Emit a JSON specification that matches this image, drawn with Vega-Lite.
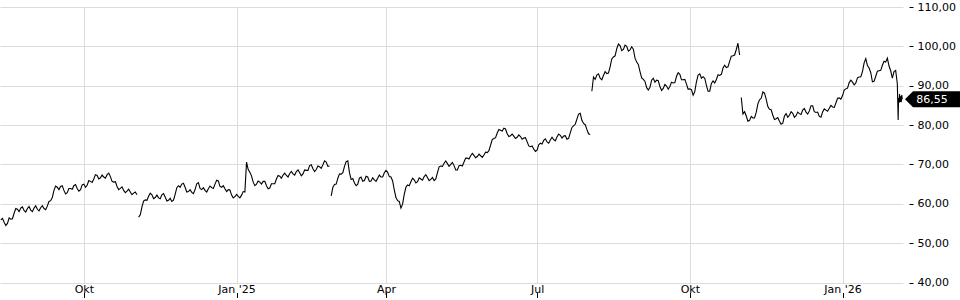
{
  "$schema": "https://vega.github.io/schema/vega-lite/v6.json",
  "autosize": {"type": "none"},
  "width": 903,
  "height": 275.5,
  "padding": {"left": 0, "top": 7, "right": 57, "bottom": 17.5},
  "background": "white",
  "config": {
    "view": {"stroke": null},
    "axis": {"gridColor": "#dcdcdc", "gridWidth": 1, "labelFont": "DejaVu Sans", "labelFontSize": 11, "labelColor": "#000000", "tickColor": "#000000", "title": null}
  },
  "datasets": {
    "p": [
      {"t": "2024-08-12", "v": 55.9, "s": 1}, {"t": "2024-08-14", "v": 55.3, "s": 1}, {"t": "2024-08-16", "v": 55.0, "s": 1}, {"t": "2024-08-18", "v": 56.1, "s": 1},
      {"t": "2024-08-20", "v": 57.6, "s": 1}, {"t": "2024-08-22", "v": 58.6, "s": 1}, {"t": "2024-08-24", "v": 58.9, "s": 1}, {"t": "2024-08-26", "v": 58.3, "s": 1},
      {"t": "2024-08-28", "v": 58.8, "s": 1}, {"t": "2024-08-30", "v": 58.4, "s": 1}, {"t": "2024-09-01", "v": 58.9, "s": 1}, {"t": "2024-09-03", "v": 58.6, "s": 1},
      {"t": "2024-09-05", "v": 59.0, "s": 1}, {"t": "2024-09-07", "v": 58.8, "s": 1}, {"t": "2024-09-09", "v": 59.4, "s": 1}, {"t": "2024-09-11", "v": 60.8, "s": 1},
      {"t": "2024-09-13", "v": 63.4, "s": 1}, {"t": "2024-09-15", "v": 64.2, "s": 1}, {"t": "2024-09-17", "v": 64.4, "s": 1}, {"t": "2024-09-19", "v": 63.4, "s": 1},
      {"t": "2024-09-21", "v": 62.8, "s": 1}, {"t": "2024-09-23", "v": 63.9, "s": 1}, {"t": "2024-09-25", "v": 64.6, "s": 1}, {"t": "2024-09-27", "v": 63.9, "s": 1},
      {"t": "2024-09-29", "v": 63.6, "s": 1}, {"t": "2024-10-01", "v": 65.0, "s": 1}, {"t": "2024-10-03", "v": 64.7, "s": 1}, {"t": "2024-10-05", "v": 65.7, "s": 1},
      {"t": "2024-10-07", "v": 66.3, "s": 1}, {"t": "2024-10-09", "v": 67.2, "s": 1}, {"t": "2024-10-11", "v": 66.6, "s": 1}, {"t": "2024-10-13", "v": 66.8, "s": 1},
      {"t": "2024-10-15", "v": 67.4, "s": 1}, {"t": "2024-10-17", "v": 66.9, "s": 1}, {"t": "2024-10-19", "v": 65.5, "s": 1}, {"t": "2024-10-21", "v": 64.4, "s": 1},
      {"t": "2024-10-23", "v": 63.9, "s": 1}, {"t": "2024-10-25", "v": 63.4, "s": 1}, {"t": "2024-10-27", "v": 63.2, "s": 1}, {"t": "2024-10-29", "v": 63.0, "s": 1},
      {"t": "2024-10-31", "v": 62.7, "s": 1}, {"t": "2024-11-02", "v": 62.3, "s": 1},
      {"t": "2024-08-13", "v": 56.3, "s": 1}, {"t": "2024-08-15", "v": 54.5, "s": 1}, {"t": "2024-08-17", "v": 56.4, "s": 1}, {"t": "2024-08-19", "v": 56.2, "s": 1},
      {"t": "2024-08-21", "v": 58.8, "s": 1}, {"t": "2024-08-23", "v": 58.0, "s": 1}, {"t": "2024-08-25", "v": 59.2, "s": 1}, {"t": "2024-08-27", "v": 57.9, "s": 1},
      {"t": "2024-08-29", "v": 59.3, "s": 1}, {"t": "2024-08-31", "v": 58.0, "s": 1}, {"t": "2024-09-02", "v": 59.5, "s": 1}, {"t": "2024-09-04", "v": 58.2, "s": 1},
      {"t": "2024-09-06", "v": 59.5, "s": 1}, {"t": "2024-09-08", "v": 58.5, "s": 1}, {"t": "2024-09-10", "v": 60.6, "s": 1}, {"t": "2024-09-12", "v": 61.6, "s": 1},
      {"t": "2024-09-14", "v": 64.5, "s": 1}, {"t": "2024-09-16", "v": 63.6, "s": 1}, {"t": "2024-09-18", "v": 64.6, "s": 1}, {"t": "2024-09-20", "v": 62.5, "s": 1},
      {"t": "2024-09-22", "v": 63.9, "s": 1}, {"t": "2024-09-24", "v": 63.7, "s": 1}, {"t": "2024-09-26", "v": 64.9, "s": 1}, {"t": "2024-09-28", "v": 63.2, "s": 1},
      {"t": "2024-09-30", "v": 64.8, "s": 1}, {"t": "2024-10-02", "v": 64.2, "s": 1}, {"t": "2024-10-04", "v": 65.9, "s": 1}, {"t": "2024-10-06", "v": 65.4, "s": 1},
      {"t": "2024-10-08", "v": 67.4, "s": 1}, {"t": "2024-10-10", "v": 66.3, "s": 1}, {"t": "2024-10-12", "v": 67.3, "s": 1}, {"t": "2024-10-14", "v": 66.5, "s": 1},
      {"t": "2024-10-16", "v": 67.8, "s": 1}, {"t": "2024-10-18", "v": 65.7, "s": 1}, {"t": "2024-10-20", "v": 65.6, "s": 1}, {"t": "2024-10-22", "v": 63.6, "s": 1},
      {"t": "2024-10-24", "v": 64.3, "s": 1}, {"t": "2024-10-26", "v": 62.8, "s": 1}, {"t": "2024-10-28", "v": 63.7, "s": 1}, {"t": "2024-10-30", "v": 62.3, "s": 1},
      {"t": "2024-11-01", "v": 63.0, "s": 1},

      {"t": "2024-11-03", "v": 56.6, "s": 2}, {"t": "2024-11-05", "v": 59.2, "s": 2}, {"t": "2024-11-07", "v": 61.0, "s": 2}, {"t": "2024-11-09", "v": 61.9, "s": 2},
      {"t": "2024-11-11", "v": 62.3, "s": 2}, {"t": "2024-11-13", "v": 61.6, "s": 2}, {"t": "2024-11-15", "v": 61.5, "s": 2}, {"t": "2024-11-17", "v": 62.3, "s": 2},
      {"t": "2024-11-19", "v": 61.7, "s": 2}, {"t": "2024-11-21", "v": 60.9, "s": 2}, {"t": "2024-11-23", "v": 60.6, "s": 2}, {"t": "2024-11-25", "v": 62.4, "s": 2},
      {"t": "2024-11-27", "v": 64.6, "s": 2}, {"t": "2024-11-29", "v": 65.0, "s": 2}, {"t": "2024-12-01", "v": 64.2, "s": 2}, {"t": "2024-12-03", "v": 63.1, "s": 2},
      {"t": "2024-12-05", "v": 62.9, "s": 2}, {"t": "2024-12-07", "v": 63.6, "s": 2}, {"t": "2024-12-09", "v": 65.4, "s": 2}, {"t": "2024-12-11", "v": 63.6, "s": 2},
      {"t": "2024-12-13", "v": 63.4, "s": 2}, {"t": "2024-12-15", "v": 63.8, "s": 2}, {"t": "2024-12-17", "v": 64.1, "s": 2}, {"t": "2024-12-19", "v": 65.0, "s": 2},
      {"t": "2024-12-21", "v": 65.8, "s": 2}, {"t": "2024-12-23", "v": 64.2, "s": 2}, {"t": "2024-12-25", "v": 63.8, "s": 2}, {"t": "2024-12-27", "v": 63.6, "s": 2},
      {"t": "2024-12-29", "v": 62.2, "s": 2}, {"t": "2024-12-31", "v": 61.8, "s": 2}, {"t": "2025-01-02", "v": 61.9, "s": 2}, {"t": "2025-01-04", "v": 62.2, "s": 2},
      {"t": "2025-01-06", "v": 63.0, "s": 2}, {"t": "2025-01-07", "v": 70.6, "s": 2}, {"t": "2025-01-09", "v": 68.0, "s": 2}, {"t": "2025-01-11", "v": 65.5, "s": 2},
      {"t": "2025-01-13", "v": 65.0, "s": 2}, {"t": "2025-01-15", "v": 65.5, "s": 2}, {"t": "2025-01-17", "v": 65.7, "s": 2}, {"t": "2025-01-19", "v": 64.6, "s": 2},
      {"t": "2025-01-21", "v": 64.0, "s": 2}, {"t": "2025-01-23", "v": 65.1, "s": 2}, {"t": "2025-01-25", "v": 66.3, "s": 2}, {"t": "2025-01-27", "v": 67.0, "s": 2},
      {"t": "2025-01-29", "v": 67.3, "s": 2}, {"t": "2025-01-31", "v": 67.2, "s": 2}, {"t": "2025-02-02", "v": 67.7, "s": 2}, {"t": "2025-02-04", "v": 67.6, "s": 2},
      {"t": "2025-02-06", "v": 68.2, "s": 2}, {"t": "2025-02-08", "v": 67.9, "s": 2}, {"t": "2025-02-10", "v": 67.6, "s": 2}, {"t": "2025-02-12", "v": 68.5, "s": 2},
      {"t": "2025-02-14", "v": 69.7, "s": 2}, {"t": "2025-02-16", "v": 68.9, "s": 2}, {"t": "2025-02-18", "v": 68.7, "s": 2}, {"t": "2025-02-20", "v": 69.4, "s": 2},
      {"t": "2025-02-22", "v": 69.9, "s": 2}, {"t": "2025-02-24", "v": 70.6, "s": 2}, {"t": "2025-02-26", "v": 69.6, "s": 2},
      {"t": "2024-11-04", "v": 57.2, "s": 2}, {"t": "2024-11-06", "v": 60.7, "s": 2}, {"t": "2024-11-08", "v": 60.9, "s": 2}, {"t": "2024-11-10", "v": 62.7, "s": 2},
      {"t": "2024-11-12", "v": 61.3, "s": 2}, {"t": "2024-11-14", "v": 62.2, "s": 2}, {"t": "2024-11-16", "v": 61.3, "s": 2}, {"t": "2024-11-18", "v": 62.6, "s": 2},
      {"t": "2024-11-20", "v": 60.7, "s": 2}, {"t": "2024-11-22", "v": 61.4, "s": 2}, {"t": "2024-11-24", "v": 60.9, "s": 2}, {"t": "2024-11-26", "v": 64.1, "s": 2},
      {"t": "2024-11-28", "v": 64.2, "s": 2}, {"t": "2024-11-30", "v": 65.2, "s": 2}, {"t": "2024-12-02", "v": 63.0, "s": 2}, {"t": "2024-12-04", "v": 63.6, "s": 2},
      {"t": "2024-12-06", "v": 62.6, "s": 2}, {"t": "2024-12-08", "v": 65.1, "s": 2}, {"t": "2024-12-10", "v": 63.9, "s": 2}, {"t": "2024-12-12", "v": 64.1, "s": 2},
      {"t": "2024-12-14", "v": 63.0, "s": 2}, {"t": "2024-12-16", "v": 64.5, "s": 2}, {"t": "2024-12-18", "v": 63.9, "s": 2}, {"t": "2024-12-20", "v": 66.0, "s": 2},
      {"t": "2024-12-22", "v": 64.4, "s": 2}, {"t": "2024-12-24", "v": 64.6, "s": 2}, {"t": "2024-12-26", "v": 63.1, "s": 2}, {"t": "2024-12-28", "v": 63.5, "s": 2},
      {"t": "2024-12-30", "v": 61.5, "s": 2}, {"t": "2025-01-01", "v": 62.4, "s": 2}, {"t": "2025-01-03", "v": 61.5, "s": 2}, {"t": "2025-01-05", "v": 63.1, "s": 2},
      {"t": "2025-01-08", "v": 68.7, "s": 2}, {"t": "2025-01-10", "v": 67.1, "s": 2}, {"t": "2025-01-12", "v": 64.6, "s": 2}, {"t": "2025-01-14", "v": 65.8, "s": 2},
      {"t": "2025-01-16", "v": 65.0, "s": 2}, {"t": "2025-01-18", "v": 65.7, "s": 2}, {"t": "2025-01-20", "v": 63.8, "s": 2}, {"t": "2025-01-22", "v": 65.1, "s": 2},
      {"t": "2025-01-24", "v": 65.1, "s": 2}, {"t": "2025-01-26", "v": 67.2, "s": 2}, {"t": "2025-01-28", "v": 66.5, "s": 2}, {"t": "2025-01-30", "v": 67.8, "s": 2},
      {"t": "2025-02-01", "v": 66.8, "s": 2}, {"t": "2025-02-03", "v": 68.2, "s": 2}, {"t": "2025-02-05", "v": 67.3, "s": 2}, {"t": "2025-02-07", "v": 68.6, "s": 2},
      {"t": "2025-02-09", "v": 67.1, "s": 2}, {"t": "2025-02-11", "v": 68.6, "s": 2}, {"t": "2025-02-13", "v": 68.5, "s": 2}, {"t": "2025-02-15", "v": 69.9, "s": 2},
      {"t": "2025-02-17", "v": 68.2, "s": 2}, {"t": "2025-02-19", "v": 69.6, "s": 2}, {"t": "2025-02-21", "v": 69.0, "s": 2}, {"t": "2025-02-23", "v": 70.9, "s": 2},
      {"t": "2025-02-25", "v": 69.5, "s": 2},

      {"t": "2025-02-27", "v": 62.0, "s": 3}, {"t": "2025-03-01", "v": 64.9, "s": 3}, {"t": "2025-03-03", "v": 66.5, "s": 3}, {"t": "2025-03-05", "v": 67.5, "s": 3},
      {"t": "2025-03-07", "v": 69.5, "s": 3}, {"t": "2025-03-09", "v": 70.9, "s": 3}, {"t": "2025-03-11", "v": 66.2, "s": 3}, {"t": "2025-03-13", "v": 65.3, "s": 3},
      {"t": "2025-03-15", "v": 65.0, "s": 3}, {"t": "2025-03-17", "v": 66.8, "s": 3}, {"t": "2025-03-19", "v": 65.9, "s": 3}, {"t": "2025-03-21", "v": 66.8, "s": 3},
      {"t": "2025-03-23", "v": 65.8, "s": 3}, {"t": "2025-03-25", "v": 66.1, "s": 3}, {"t": "2025-03-27", "v": 66.5, "s": 3}, {"t": "2025-03-29", "v": 66.8, "s": 3},
      {"t": "2025-03-31", "v": 67.9, "s": 3}, {"t": "2025-04-02", "v": 68.0, "s": 3}, {"t": "2025-04-04", "v": 66.8, "s": 3}, {"t": "2025-04-06", "v": 63.5, "s": 3},
      {"t": "2025-04-08", "v": 60.8, "s": 3}, {"t": "2025-04-10", "v": 58.9, "s": 3}, {"t": "2025-04-12", "v": 62.4, "s": 3}, {"t": "2025-04-14", "v": 64.8, "s": 3},
      {"t": "2025-04-16", "v": 65.6, "s": 3}, {"t": "2025-04-18", "v": 66.1, "s": 3}, {"t": "2025-04-20", "v": 65.6, "s": 3}, {"t": "2025-04-22", "v": 66.3, "s": 3},
      {"t": "2025-04-24", "v": 66.9, "s": 3}, {"t": "2025-04-26", "v": 66.7, "s": 3}, {"t": "2025-04-28", "v": 66.2, "s": 3}, {"t": "2025-04-30", "v": 65.9, "s": 3},
      {"t": "2025-05-02", "v": 67.9, "s": 3}, {"t": "2025-05-04", "v": 69.6, "s": 3}, {"t": "2025-05-06", "v": 70.3, "s": 3}, {"t": "2025-05-08", "v": 70.2, "s": 3},
      {"t": "2025-05-10", "v": 70.0, "s": 3}, {"t": "2025-05-12", "v": 69.7, "s": 3}, {"t": "2025-05-14", "v": 68.6, "s": 3}, {"t": "2025-05-16", "v": 69.8, "s": 3},
      {"t": "2025-05-18", "v": 70.6, "s": 3}, {"t": "2025-05-20", "v": 71.6, "s": 3}, {"t": "2025-05-22", "v": 72.2, "s": 3}, {"t": "2025-05-24", "v": 72.3, "s": 3},
      {"t": "2025-05-26", "v": 72.0, "s": 3}, {"t": "2025-05-28", "v": 72.2, "s": 3}, {"t": "2025-05-30", "v": 72.4, "s": 3}, {"t": "2025-06-01", "v": 73.0, "s": 3},
      {"t": "2025-06-03", "v": 74.9, "s": 3}, {"t": "2025-06-05", "v": 76.6, "s": 3}, {"t": "2025-06-07", "v": 78.0, "s": 3}, {"t": "2025-06-09", "v": 78.7, "s": 3},
      {"t": "2025-06-11", "v": 79.2, "s": 3}, {"t": "2025-06-13", "v": 77.8, "s": 3}, {"t": "2025-06-15", "v": 77.3, "s": 3}, {"t": "2025-06-17", "v": 77.2, "s": 3},
      {"t": "2025-06-19", "v": 76.9, "s": 3}, {"t": "2025-06-21", "v": 77.1, "s": 3}, {"t": "2025-06-23", "v": 76.7, "s": 3}, {"t": "2025-06-25", "v": 75.8, "s": 3},
      {"t": "2025-06-27", "v": 74.5, "s": 3}, {"t": "2025-06-29", "v": 73.9, "s": 3}, {"t": "2025-07-01", "v": 73.6, "s": 3}, {"t": "2025-07-03", "v": 75.4, "s": 3},
      {"t": "2025-07-05", "v": 76.1, "s": 3}, {"t": "2025-07-07", "v": 75.7, "s": 3}, {"t": "2025-07-09", "v": 76.2, "s": 3}, {"t": "2025-07-11", "v": 76.3, "s": 3},
      {"t": "2025-07-13", "v": 77.0, "s": 3}, {"t": "2025-07-15", "v": 77.4, "s": 3}, {"t": "2025-07-17", "v": 77.2, "s": 3}, {"t": "2025-07-19", "v": 76.4, "s": 3},
      {"t": "2025-07-21", "v": 78.0, "s": 3}, {"t": "2025-07-23", "v": 79.8, "s": 3}, {"t": "2025-07-25", "v": 81.5, "s": 3}, {"t": "2025-07-27", "v": 83.0, "s": 3},
      {"t": "2025-07-29", "v": 80.4, "s": 3}, {"t": "2025-07-31", "v": 78.9, "s": 3}, {"t": "2025-08-02", "v": 77.6, "s": 3},
      {"t": "2025-02-28", "v": 64.2, "s": 3}, {"t": "2025-03-02", "v": 65.0, "s": 3}, {"t": "2025-03-04", "v": 67.6, "s": 3}, {"t": "2025-03-06", "v": 67.9, "s": 3},
      {"t": "2025-03-08", "v": 70.7, "s": 3}, {"t": "2025-03-10", "v": 67.9, "s": 3}, {"t": "2025-03-12", "v": 66.4, "s": 3}, {"t": "2025-03-14", "v": 64.6, "s": 3},
      {"t": "2025-03-16", "v": 66.5, "s": 3}, {"t": "2025-03-18", "v": 65.7, "s": 3}, {"t": "2025-03-20", "v": 67.0, "s": 3}, {"t": "2025-03-22", "v": 65.7, "s": 3},
      {"t": "2025-03-24", "v": 66.6, "s": 3}, {"t": "2025-03-26", "v": 65.7, "s": 3}, {"t": "2025-03-28", "v": 67.3, "s": 3}, {"t": "2025-03-30", "v": 66.8, "s": 3},
      {"t": "2025-04-01", "v": 68.5, "s": 3}, {"t": "2025-04-03", "v": 66.9, "s": 3}, {"t": "2025-04-05", "v": 65.8, "s": 3}, {"t": "2025-04-07", "v": 61.6, "s": 3},
      {"t": "2025-04-09", "v": 60.6, "s": 3}, {"t": "2025-04-11", "v": 59.9, "s": 3}, {"t": "2025-04-13", "v": 64.2, "s": 3}, {"t": "2025-04-15", "v": 64.6, "s": 3},
      {"t": "2025-04-17", "v": 66.5, "s": 3}, {"t": "2025-04-19", "v": 65.3, "s": 3}, {"t": "2025-04-21", "v": 66.6, "s": 3}, {"t": "2025-04-23", "v": 66.0, "s": 3},
      {"t": "2025-04-25", "v": 67.4, "s": 3}, {"t": "2025-04-27", "v": 65.9, "s": 3}, {"t": "2025-04-29", "v": 66.7, "s": 3}, {"t": "2025-05-01", "v": 66.3, "s": 3},
      {"t": "2025-05-03", "v": 69.4, "s": 3}, {"t": "2025-05-05", "v": 69.5, "s": 3}, {"t": "2025-05-07", "v": 70.9, "s": 3}, {"t": "2025-05-09", "v": 69.5, "s": 3},
      {"t": "2025-05-11", "v": 70.5, "s": 3}, {"t": "2025-05-13", "v": 68.6, "s": 3}, {"t": "2025-05-15", "v": 69.7, "s": 3}, {"t": "2025-05-17", "v": 69.6, "s": 3},
      {"t": "2025-05-19", "v": 71.6, "s": 3}, {"t": "2025-05-21", "v": 71.4, "s": 3}, {"t": "2025-05-23", "v": 72.8, "s": 3}, {"t": "2025-05-25", "v": 71.7, "s": 3},
      {"t": "2025-05-27", "v": 72.6, "s": 3}, {"t": "2025-05-29", "v": 71.8, "s": 3}, {"t": "2025-05-31", "v": 73.1, "s": 3}, {"t": "2025-06-02", "v": 73.5, "s": 3},
      {"t": "2025-06-04", "v": 76.3, "s": 3}, {"t": "2025-06-06", "v": 76.8, "s": 3}, {"t": "2025-06-08", "v": 78.9, "s": 3}, {"t": "2025-06-10", "v": 78.5, "s": 3},
      {"t": "2025-06-12", "v": 79.0, "s": 3}, {"t": "2025-06-14", "v": 77.1, "s": 3}, {"t": "2025-06-16", "v": 77.7, "s": 3}, {"t": "2025-06-18", "v": 76.6, "s": 3},
      {"t": "2025-06-20", "v": 77.5, "s": 3}, {"t": "2025-06-22", "v": 76.4, "s": 3}, {"t": "2025-06-24", "v": 76.8, "s": 3}, {"t": "2025-06-26", "v": 74.7, "s": 3},
      {"t": "2025-06-28", "v": 74.7, "s": 3}, {"t": "2025-06-30", "v": 73.3, "s": 3}, {"t": "2025-07-02", "v": 75.0, "s": 3}, {"t": "2025-07-04", "v": 75.2, "s": 3},
      {"t": "2025-07-06", "v": 76.5, "s": 3}, {"t": "2025-07-08", "v": 75.4, "s": 3}, {"t": "2025-07-10", "v": 76.9, "s": 3}, {"t": "2025-07-12", "v": 76.0, "s": 3},
      {"t": "2025-07-14", "v": 77.7, "s": 3}, {"t": "2025-07-16", "v": 76.7, "s": 3}, {"t": "2025-07-18", "v": 77.3, "s": 3}, {"t": "2025-07-20", "v": 76.6, "s": 3},
      {"t": "2025-07-22", "v": 79.4, "s": 3}, {"t": "2025-07-24", "v": 80.2, "s": 3}, {"t": "2025-07-26", "v": 82.8, "s": 3}, {"t": "2025-07-28", "v": 81.2, "s": 3},
      {"t": "2025-07-30", "v": 80.1, "s": 3}, {"t": "2025-08-01", "v": 77.8, "s": 3},

      {"t": "2025-08-03", "v": 88.6, "s": 4}, {"t": "2025-08-04", "v": 92.2, "s": 4}, {"t": "2025-08-06", "v": 92.7, "s": 4}, {"t": "2025-08-08", "v": 91.9, "s": 4},
      {"t": "2025-08-10", "v": 92.6, "s": 4}, {"t": "2025-08-12", "v": 93.1, "s": 4}, {"t": "2025-08-14", "v": 94.8, "s": 4}, {"t": "2025-08-16", "v": 97.3, "s": 4},
      {"t": "2025-08-18", "v": 99.4, "s": 4}, {"t": "2025-08-20", "v": 100.2, "s": 4}, {"t": "2025-08-22", "v": 99.2, "s": 4}, {"t": "2025-08-24", "v": 100.0, "s": 4},
      {"t": "2025-08-26", "v": 99.1, "s": 4}, {"t": "2025-08-28", "v": 99.3, "s": 4}, {"t": "2025-08-30", "v": 96.0, "s": 4}, {"t": "2025-09-01", "v": 93.6, "s": 4},
      {"t": "2025-09-03", "v": 91.6, "s": 4}, {"t": "2025-09-05", "v": 89.5, "s": 4}, {"t": "2025-09-07", "v": 89.6, "s": 4}, {"t": "2025-09-09", "v": 91.9, "s": 4},
      {"t": "2025-09-11", "v": 91.4, "s": 4}, {"t": "2025-09-13", "v": 89.8, "s": 4}, {"t": "2025-09-15", "v": 89.3, "s": 4}, {"t": "2025-09-17", "v": 89.9, "s": 4},
      {"t": "2025-09-19", "v": 89.8, "s": 4}, {"t": "2025-09-21", "v": 90.7, "s": 4}, {"t": "2025-09-23", "v": 92.4, "s": 4}, {"t": "2025-09-25", "v": 92.9, "s": 4},
      {"t": "2025-09-27", "v": 91.5, "s": 4}, {"t": "2025-09-29", "v": 90.4, "s": 4}, {"t": "2025-10-01", "v": 89.2, "s": 4}, {"t": "2025-10-03", "v": 87.6, "s": 4},
      {"t": "2025-10-05", "v": 91.0, "s": 4}, {"t": "2025-10-07", "v": 93.0, "s": 4}, {"t": "2025-10-09", "v": 92.3, "s": 4}, {"t": "2025-10-11", "v": 90.1, "s": 4},
      {"t": "2025-10-13", "v": 88.6, "s": 4}, {"t": "2025-10-15", "v": 91.2, "s": 4}, {"t": "2025-10-17", "v": 91.6, "s": 4}, {"t": "2025-10-19", "v": 92.6, "s": 4},
      {"t": "2025-10-21", "v": 94.5, "s": 4}, {"t": "2025-10-23", "v": 94.6, "s": 4}, {"t": "2025-10-25", "v": 96.2, "s": 4}, {"t": "2025-10-27", "v": 97.6, "s": 4},
      {"t": "2025-10-29", "v": 99.2, "s": 4}, {"t": "2025-10-30", "v": 100.8, "s": 4}, {"t": "2025-10-31", "v": 97.8, "s": 4},
      {"t": "2025-08-05", "v": 91.6, "s": 4}, {"t": "2025-08-07", "v": 93.0, "s": 4}, {"t": "2025-08-09", "v": 91.5, "s": 4}, {"t": "2025-08-11", "v": 93.6, "s": 4},
      {"t": "2025-08-13", "v": 93.2, "s": 4}, {"t": "2025-08-15", "v": 96.8, "s": 4}, {"t": "2025-08-17", "v": 97.6, "s": 4}, {"t": "2025-08-19", "v": 100.6, "s": 4},
      {"t": "2025-08-21", "v": 98.9, "s": 4}, {"t": "2025-08-23", "v": 100.3, "s": 4}, {"t": "2025-08-25", "v": 98.8, "s": 4}, {"t": "2025-08-27", "v": 99.9, "s": 4},
      {"t": "2025-08-29", "v": 97.0, "s": 4}, {"t": "2025-08-31", "v": 95.4, "s": 4}, {"t": "2025-09-02", "v": 92.0, "s": 4}, {"t": "2025-09-04", "v": 91.1, "s": 4},
      {"t": "2025-09-06", "v": 88.9, "s": 4}, {"t": "2025-09-08", "v": 91.4, "s": 4}, {"t": "2025-09-10", "v": 90.9, "s": 4}, {"t": "2025-09-12", "v": 91.3, "s": 4},
      {"t": "2025-09-14", "v": 88.8, "s": 4}, {"t": "2025-09-16", "v": 90.3, "s": 4}, {"t": "2025-09-18", "v": 89.1, "s": 4}, {"t": "2025-09-20", "v": 90.9, "s": 4},
      {"t": "2025-09-22", "v": 90.8, "s": 4}, {"t": "2025-09-24", "v": 93.3, "s": 4}, {"t": "2025-09-26", "v": 91.5, "s": 4}, {"t": "2025-09-28", "v": 91.6, "s": 4},
      {"t": "2025-09-30", "v": 89.1, "s": 4}, {"t": "2025-10-02", "v": 89.0, "s": 4}, {"t": "2025-10-04", "v": 88.5, "s": 4}, {"t": "2025-10-06", "v": 92.7, "s": 4},
      {"t": "2025-10-08", "v": 91.9, "s": 4}, {"t": "2025-10-10", "v": 91.9, "s": 4}, {"t": "2025-10-12", "v": 88.6, "s": 4}, {"t": "2025-10-14", "v": 90.6, "s": 4},
      {"t": "2025-10-16", "v": 90.7, "s": 4}, {"t": "2025-10-18", "v": 92.8, "s": 4}, {"t": "2025-10-20", "v": 92.9, "s": 4}, {"t": "2025-10-22", "v": 95.2, "s": 4},
      {"t": "2025-10-24", "v": 94.8, "s": 4}, {"t": "2025-10-26", "v": 97.5, "s": 4}, {"t": "2025-10-28", "v": 97.8, "s": 4},

      {"t": "2025-11-01", "v": 87.0, "s": 5}, {"t": "2025-11-02", "v": 82.8, "s": 5}, {"t": "2025-11-04", "v": 82.3, "s": 5}, {"t": "2025-11-06", "v": 81.2, "s": 5},
      {"t": "2025-11-08", "v": 81.8, "s": 5}, {"t": "2025-11-10", "v": 83.2, "s": 5}, {"t": "2025-11-12", "v": 86.4, "s": 5}, {"t": "2025-11-14", "v": 88.4, "s": 5},
      {"t": "2025-11-16", "v": 86.6, "s": 5}, {"t": "2025-11-18", "v": 84.0, "s": 5}, {"t": "2025-11-20", "v": 82.5, "s": 5}, {"t": "2025-11-22", "v": 81.6, "s": 5},
      {"t": "2025-11-24", "v": 81.0, "s": 5}, {"t": "2025-11-26", "v": 80.5, "s": 5}, {"t": "2025-11-28", "v": 82.9, "s": 5}, {"t": "2025-11-30", "v": 82.5, "s": 5},
      {"t": "2025-12-02", "v": 83.0, "s": 5}, {"t": "2025-12-04", "v": 82.4, "s": 5}, {"t": "2025-12-06", "v": 82.9, "s": 5}, {"t": "2025-12-08", "v": 83.8, "s": 5},
      {"t": "2025-12-10", "v": 83.3, "s": 5}, {"t": "2025-12-12", "v": 83.6, "s": 5}, {"t": "2025-12-14", "v": 84.9, "s": 5}, {"t": "2025-12-16", "v": 83.2, "s": 5},
      {"t": "2025-12-18", "v": 82.2, "s": 5}, {"t": "2025-12-20", "v": 83.3, "s": 5}, {"t": "2025-12-22", "v": 83.8, "s": 5}, {"t": "2025-12-24", "v": 84.3, "s": 5},
      {"t": "2025-12-26", "v": 84.6, "s": 5}, {"t": "2025-12-28", "v": 85.6, "s": 5}, {"t": "2025-12-30", "v": 86.9, "s": 5}, {"t": "2026-01-01", "v": 87.5, "s": 5},
      {"t": "2026-01-03", "v": 89.2, "s": 5}, {"t": "2026-01-05", "v": 90.8, "s": 5}, {"t": "2026-01-07", "v": 90.9, "s": 5}, {"t": "2026-01-09", "v": 90.7, "s": 5},
      {"t": "2026-01-11", "v": 92.2, "s": 5}, {"t": "2026-01-13", "v": 93.6, "s": 5}, {"t": "2026-01-15", "v": 96.9, "s": 5}, {"t": "2026-01-17", "v": 94.5, "s": 5},
      {"t": "2026-01-19", "v": 91.0, "s": 5}, {"t": "2026-01-21", "v": 92.4, "s": 5}, {"t": "2026-01-23", "v": 93.8, "s": 5}, {"t": "2026-01-25", "v": 95.2, "s": 5},
      {"t": "2026-01-27", "v": 96.0, "s": 5}, {"t": "2026-01-28", "v": 97.0, "s": 5}, {"t": "2026-01-29", "v": 95.0, "s": 5}, {"t": "2026-01-30", "v": 93.8, "s": 5},
      {"t": "2026-01-31", "v": 91.9, "s": 5}, {"t": "2026-02-01", "v": 93.6, "s": 5}, {"t": "2026-02-02", "v": 93.9, "s": 5}, {"t": "2026-02-03T00:00Z", "v": 90.5, "s": 5},
      {"t": "2026-02-03T12:00Z", "v": 81.3, "s": 5}, {"t": "2026-02-03T18:00Z", "v": 86.9, "s": 5}, {"t": "2026-02-04T00:00Z", "v": 85.6, "s": 5}, {"t": "2026-02-04T08:00Z", "v": 87.9, "s": 5},
      {"t": "2026-02-04T16:00Z", "v": 85.9, "s": 5}, {"t": "2026-02-05T00:00Z", "v": 87.3, "s": 5}, {"t": "2026-02-05T08:00Z", "v": 85.8, "s": 5}, {"t": "2026-02-05T16:00Z", "v": 87.6, "s": 5},
      {"t": "2026-02-06T00:00Z", "v": 86.55, "s": 5},
      {"t": "2025-11-03", "v": 83.4, "s": 5}, {"t": "2025-11-05", "v": 81.0, "s": 5}, {"t": "2025-11-07", "v": 82.2, "s": 5}, {"t": "2025-11-09", "v": 81.8, "s": 5},
      {"t": "2025-11-11", "v": 85.4, "s": 5}, {"t": "2025-11-13", "v": 86.8, "s": 5}, {"t": "2025-11-15", "v": 88.1, "s": 5}, {"t": "2025-11-17", "v": 84.7, "s": 5},
      {"t": "2025-11-19", "v": 83.9, "s": 5}, {"t": "2025-11-21", "v": 81.4, "s": 5}, {"t": "2025-11-23", "v": 81.9, "s": 5}, {"t": "2025-11-25", "v": 80.2, "s": 5},
      {"t": "2025-11-27", "v": 82.3, "s": 5}, {"t": "2025-11-29", "v": 82.0, "s": 5}, {"t": "2025-12-01", "v": 83.4, "s": 5}, {"t": "2025-12-03", "v": 82.0, "s": 5},
      {"t": "2025-12-05", "v": 83.3, "s": 5}, {"t": "2025-12-07", "v": 82.7, "s": 5}, {"t": "2025-12-09", "v": 84.2, "s": 5}, {"t": "2025-12-11", "v": 82.8, "s": 5},
      {"t": "2025-12-13", "v": 84.9, "s": 5}, {"t": "2025-12-15", "v": 83.4, "s": 5}, {"t": "2025-12-17", "v": 83.3, "s": 5}, {"t": "2025-12-19", "v": 82.0, "s": 5},
      {"t": "2025-12-21", "v": 84.1, "s": 5}, {"t": "2025-12-23", "v": 83.5, "s": 5}, {"t": "2025-12-25", "v": 85.0, "s": 5}, {"t": "2025-12-27", "v": 84.5, "s": 5},
      {"t": "2025-12-29", "v": 86.8, "s": 5}, {"t": "2025-12-31", "v": 86.6, "s": 5}, {"t": "2026-01-02", "v": 88.9, "s": 5}, {"t": "2026-01-04", "v": 89.4, "s": 5},
      {"t": "2026-01-06", "v": 91.4, "s": 5}, {"t": "2026-01-08", "v": 90.2, "s": 5}, {"t": "2026-01-10", "v": 92.0, "s": 5}, {"t": "2026-01-12", "v": 92.3, "s": 5},
      {"t": "2026-01-14", "v": 95.8, "s": 5}, {"t": "2026-01-16", "v": 95.1, "s": 5}, {"t": "2026-01-18", "v": 93.3, "s": 5}, {"t": "2026-01-20", "v": 91.1, "s": 5},
      {"t": "2026-01-22", "v": 93.7, "s": 5}, {"t": "2026-01-24", "v": 93.9, "s": 5}, {"t": "2026-01-26", "v": 96.2, "s": 5}
    ],
    "last": [
      {"t": "2026-02-06T00:00Z", "v": 86.55, "lbl": "86,55"}
    ]
  },
  "resolve": {"axis": {"x": "independent"}},
  "encoding": {
    "y": {
      "field": "v", "type": "quantitative",
      "scale": {"domain": [40, 110], "nice": false, "zero": false},
      "axis": {
        "orient": "right", "grid": true, "domain": false, "ticks": true, "tickSize": 4, "offset": 6, "labelPadding": 4,
        "values": [40, 50, 60, 70, 80, 90, 100, 110],
        "labelExpr": "replace(format(datum.value, '.2f'), '.', ',')"
      }
    }
  },
  "layer": [
    {
      "data": {"name": "p"},
      "mark": {"type": "line", "color": "#000000", "strokeWidth": 1.1, "interpolate": "linear"},
      "encoding": {
        "x": {
          "field": "t", "type": "temporal",
          "scale": {"type": "utc", "domain": [{"year": 2024, "month": 8, "date": 11, "hours": 12, "utc": true}, {"year": 2026, "month": 2, "date": 6, "hours": 10, "utc": true}]},
          "axis": {
            "orient": "bottom", "grid": true, "ticks": false, "domain": false, "labelPadding": 1,
            "values": [
              {"year": 2024, "month": 10, "date": 1, "utc": true},
              {"year": 2025, "month": 1, "date": 1, "utc": true},
              {"year": 2025, "month": 4, "date": 1, "utc": true},
              {"year": 2025, "month": 7, "date": 1, "utc": true},
              {"year": 2025, "month": 10, "date": 1, "utc": true},
              {"year": 2026, "month": 1, "date": 1, "utc": true}
            ],
            "labelExpr": "['Jan','Feb','Mär','Apr','Mai','Jun','Jul','Aug','Sep','Okt','Nov','Dez'][utcmonth(datum.value)] + (utcmonth(datum.value) == 0 ? \" '\" + utcFormat(datum.value, '%y') : '')"
          }
        },
        "detail": {"field": "s", "type": "nominal"}
      }
    },
    {
      "data": {"name": "p"},
      "mark": {"type": "line", "strokeOpacity": 0},
      "encoding": {
        "x": {
          "field": "t", "type": "temporal",
          "axis": {
            "orient": "bottom", "grid": false, "labels": false, "domain": false, "ticks": true, "tickSize": 5, "offset": 10,
            "values": [
              {"year": 2024, "month": 10, "date": 1, "utc": true},
              {"year": 2025, "month": 1, "date": 1, "utc": true},
              {"year": 2025, "month": 4, "date": 1, "utc": true},
              {"year": 2025, "month": 7, "date": 1, "utc": true},
              {"year": 2025, "month": 10, "date": 1, "utc": true},
              {"year": 2026, "month": 1, "date": 1, "utc": true}
            ]
          }
        },
        "detail": {"field": "s", "type": "nominal"}
      }
    },
    {
      "data": {"name": "last"},
      "mark": {"type": "point", "shape": "M2.7,0L10.7,-8L58,-8L58,8L10.7,8Z", "size": 4, "filled": true, "fill": "#000000", "opacity": 1, "strokeWidth": 0},
      "encoding": {
        "x": {"field": "t", "type": "temporal", "axis": null}
      }
    },
    {
      "data": {"name": "last"},
      "mark": {"type": "text", "color": "#ffffff", "font": "DejaVu Sans", "fontSize": 11, "align": "left", "baseline": "middle", "dx": 14, "dy": 0.5},
      "encoding": {
        "x": {"field": "t", "type": "temporal", "axis": null},
        "text": {"field": "lbl", "type": "nominal"}
      }
    }
  ]
}
